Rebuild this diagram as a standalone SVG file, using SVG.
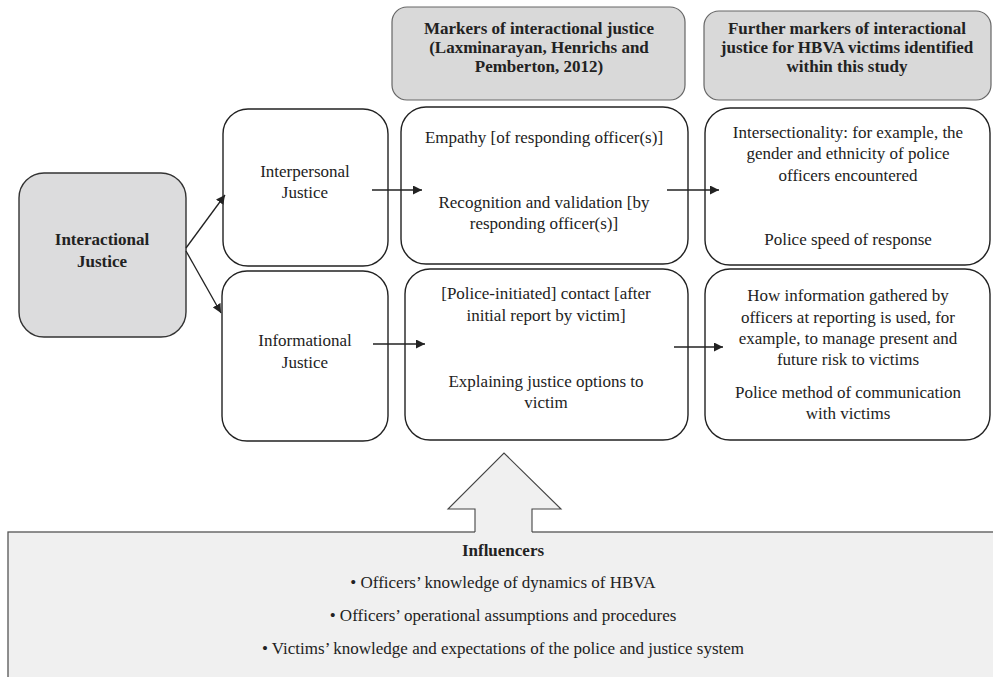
<svg xmlns="http://www.w3.org/2000/svg" width="993" height="677" viewBox="0 0 993 677">
<defs>
<marker id="ah" viewBox="0 0 10 10" refX="10" refY="5" markerWidth="9" markerHeight="9" markerUnits="userSpaceOnUse" orient="auto">
<path d="M0,0 L10,5 L0,10 z" fill="#222"/>
</marker>
<style>
.box{fill:#fff;stroke:#222;stroke-width:1.4}
.hdr{fill:#d9d9d9;stroke:#666;stroke-width:1.2}
.main{fill:#dcdcdd;stroke:#333;stroke-width:1.4}
.t{font-family:'Liberation Serif','Times New Roman',Times,'DejaVu Serif',serif;font-size:17px;fill:#222;text-anchor:middle}
.b{font-weight:bold}
.conn line{stroke:#222;stroke-width:1.3;marker-end:url(#ah)}
</style>
</defs>
<rect width="993" height="677" fill="#fff"/>

<g id="hdr-markers">
<rect class="hdr" x="392" y="7" width="293" height="93" rx="15"/>
<text class="t b" x="539" y="34">Markers of interactional justice</text>
<text class="t b" x="539" y="53">(Laxminarayan, Henrichs and</text>
<text class="t b" x="539" y="72">Pemberton, 2012)</text>
</g>

<g id="hdr-further">
<rect class="hdr" x="704" y="11" width="287" height="89" rx="15"/>
<text class="t b" x="847" y="34">Further markers of interactional</text>
<text class="t b" x="847" y="53">justice for HBVA victims identified</text>
<text class="t b" x="847" y="72">within this study</text>
</g>

<g id="interactional">
<rect class="main" x="19" y="173" width="167" height="164" rx="25"/>
<text class="t b" x="102" y="245">Interactional</text>
<text class="t b" x="102" y="267">Justice</text>
</g>

<g id="interpersonal">
<rect class="box" x="223" y="109" width="165" height="157" rx="25"/>
<text class="t" x="305" y="177">Interpersonal</text>
<text class="t" x="305" y="198">Justice</text>
</g>

<g id="informational">
<rect class="box" x="222" y="271" width="166" height="170" rx="25"/>
<text class="t" x="305" y="346">Informational</text>
<text class="t" x="305" y="368">Justice</text>
</g>

<g id="markers-interpersonal">
<rect class="box" x="401" y="107" width="287" height="157" rx="25"/>
<text class="t" x="544" y="143">Empathy [of responding officer(s)]</text>
<text class="t" x="544" y="208">Recognition and validation [by</text>
<text class="t" x="544" y="229">responding officer(s)]</text>
</g>

<g id="markers-informational">
<rect class="box" x="405" y="269" width="283" height="171" rx="25"/>
<text class="t" x="546" y="299">[Police-initiated] contact [after</text>
<text class="t" x="546" y="321">initial report by victim]</text>
<text class="t" x="546" y="387">Explaining justice options to</text>
<text class="t" x="546" y="408">victim</text>
</g>

<g id="further-interpersonal">
<rect class="box" x="705" y="108" width="285" height="157" rx="25"/>
<text class="t" x="848" y="138">Intersectionality: for example, the</text>
<text class="t" x="848" y="159">gender and ethnicity of police</text>
<text class="t" x="848" y="181">officers encountered</text>
<text class="t" x="848" y="245">Police speed of response</text>
</g>

<g id="further-informational">
<rect class="box" x="705" y="269" width="285" height="171" rx="25"/>
<text class="t" x="848" y="301">How information gathered by</text>
<text class="t" x="848" y="323">officers at reporting is used, for</text>
<text class="t" x="848" y="344">example, to manage present and</text>
<text class="t" x="848" y="365">future risk to victims</text>
<text class="t" x="848" y="398">Police method of communication</text>
<text class="t" x="848" y="419">with victims</text>
</g>

<g id="influencers">
<rect x="8" y="532" width="995" height="160" fill="#f0f0f0" stroke="#555" stroke-width="1.3"/>
<path d="M475,533 V509 H448 L504,453 L561,509 H532 V533 Z" fill="#f0f0f0" stroke="none"/>
<path d="M475,532 V509 H448 L504,453 L561,509 H532 V532" fill="none" stroke="#444" stroke-width="1.1"/>
<text class="t b" x="503" y="556">Influencers</text>
<text class="t" x="503" y="588">• Officers’ knowledge of dynamics of HBVA</text>
<text class="t" x="503" y="621">• Officers’ operational assumptions and procedures</text>
<text class="t" x="503" y="654">• Victims’ knowledge and expectations of the police and justice system</text>
</g>

<g id="connectors" class="conn">
<line x1="186" y1="248" x2="225" y2="195"/>
<line x1="186" y1="251" x2="221" y2="313"/>
<line x1="372" y1="190" x2="422" y2="190"/>
<line x1="667" y1="190" x2="719" y2="190"/>
<line x1="373" y1="344" x2="425" y2="344"/>
<line x1="674" y1="347" x2="723" y2="347"/>
</g>
</svg>
